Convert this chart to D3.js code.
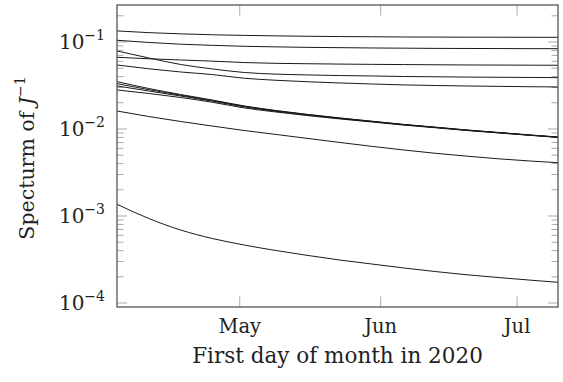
<!DOCTYPE html>
<html>
<head>
<meta charset="utf-8">
<script src="https://d3js.org/d3.v7.min.js"></script>
<style>
  body { margin: 0; background: #fff; }
  text { font-family: "DejaVu Serif", serif; fill: #222; }
</style>
</head>
<body>
<svg id="chart"></svg>
<script>
// sample dates (every week, Apr 4 .. Jul 10 2020)
var dates = ["2020-04-04", "2020-04-11", "2020-04-18", "2020-04-25", "2020-05-02",
    "2020-05-09", "2020-05-16", "2020-05-23", "2020-05-30", "2020-06-06",
    "2020-06-13", "2020-06-20", "2020-06-27", "2020-07-04", "2020-07-10"];

// eigenvalues of J^-1
var ev1 = [0.134, 0.128, 0.124, 0.121, 0.119, 0.1175, 0.1163, 0.1154, 0.1148, 0.1141, 0.1138, 0.1135, 0.1134, 0.1132, 0.1132];
var ev2 = [0.1046, 0.0987, 0.0943, 0.0914, 0.0892, 0.0878, 0.0867, 0.0860, 0.0853, 0.0849, 0.0844, 0.0842, 0.0840, 0.0838, 0.0838];
var ev3 = [0.0788, 0.0655, 0.0551, 0.0490, 0.0446, 0.0427, 0.0418, 0.0411, 0.0407, 0.0401, 0.0398, 0.0395, 0.0393, 0.0391, 0.0389];
var ev4 = [0.0667, 0.0641, 0.0621, 0.0602, 0.0580, 0.0568, 0.0562, 0.0557, 0.0553, 0.0550, 0.0547, 0.0544, 0.0543, 0.0541, 0.0540];
var ev5 = [0.0544, 0.0492, 0.0452, 0.0422, 0.0383, 0.0363, 0.0349, 0.0338, 0.0329, 0.0321, 0.0316, 0.0312, 0.0309, 0.0306, 0.0304];
var ev6 = [0.0350, 0.0292, 0.0249, 0.0215, 0.0184, 0.0163, 0.0147, 0.0134, 0.0123, 0.0113, 0.0105, 0.00974, 0.00912, 0.00853, 0.00809];
var ev7 = [0.0332, 0.0283, 0.02444, 0.02122, 0.01821, 0.01617, 0.01458, 0.01331, 0.01223, 0.01124, 0.01044, 0.00969, 0.00907, 0.00848, 0.00805];
var ev8 = [0.03123, 0.02733, 0.02393, 0.02088, 0.01792, 0.01596, 0.01447, 0.01322, 0.01217, 0.0112, 0.01042, 0.00966, 0.00906, 0.00848, 0.00805];
var ev9 = [0.02809, 0.02559, 0.0230, 0.02028, 0.01745, 0.01567, 0.01424, 0.01305, 0.01204, 0.01109, 0.01033, 0.00961, 0.0090, 0.00844, 0.0080];
var ev10 = [0.0161, 0.0139, 0.0122, 0.0108, 0.0096, 0.00865, 0.00778, 0.0070, 0.00632, 0.00574, 0.00526, 0.00487, 0.00454, 0.00428, 0.0041];
var ev11 = [0.001363, 0.000936, 0.00069, 0.000551, 0.000464, 0.000401, 0.000352, 0.000312, 0.000281, 0.000253, 0.00023, 0.000211, 0.000196, 0.000183, 0.000173];

var monthTicks = ["2020-05-01", "2020-06-01", "2020-07-01"];
var monthLabels = ["May", "Jun", "Jul"];
var decadeTicks = [1e-4, 1e-3, 1e-2, 1e-1];
var decadeExps = ["4", "3", "2", "1"];

var margin = { top: 5, right: 5, bottom: 75, left: 117 },
    width = 563 - margin.left - margin.right,
    height = 382 - margin.top - margin.bottom;

var svg = d3.select("#chart")
    .attr("width", width + margin.left + margin.right)
    .attr("height", height + margin.top + margin.bottom)
    .append("g")
    .attr("transform", "translate(" + margin.left + "," + margin.top + ")");

var parse = d3.utcParse("%Y-%m-%d");
var x = d3.scaleUtc()
    .domain([parse("2020-04-04"), parse("2020-07-10")])
    .range([0, width]);
var y = d3.scaleLog()
    .domain([9.0e-5, 0.266])
    .range([height, 0]);

var tickColor = "#aaa";

// minor ticks on left and right
var minor = [];
[-5, -4, -3, -2, -1].forEach(function (e) {
    for (var k = 2; k <= 9; k++) {
        var v = k * Math.pow(10, e);
        if (v > y.domain()[0] && v < y.domain()[1]) minor.push(v);
    }
});
svg.append("g").selectAll("line").data(minor).join("line")
    .attr("x1", 0).attr("x2", 6.5)
    .attr("y1", d => y(d)).attr("y2", d => y(d))
    .style("stroke", tickColor);
svg.append("g").selectAll("line").data(minor).join("line")
    .attr("x1", width).attr("x2", width - 6.5)
    .attr("y1", d => y(d)).attr("y2", d => y(d))
    .style("stroke", tickColor);

// major y ticks
svg.append("g").selectAll("line").data(decadeTicks).join("line")
    .attr("x1", 0).attr("x2", 10)
    .attr("y1", d => y(d)).attr("y2", d => y(d))
    .style("stroke", tickColor);
svg.append("g").selectAll("line").data(decadeTicks).join("line")
    .attr("x1", width).attr("x2", width - 10)
    .attr("y1", d => y(d)).attr("y2", d => y(d))
    .style("stroke", tickColor);

// month ticks bottom and top
svg.append("g").selectAll("line").data(monthTicks).join("line")
    .attr("x1", d => x(parse(d))).attr("x2", d => x(parse(d)))
    .attr("y1", height).attr("y2", height - 10.5)
    .style("stroke", tickColor);
svg.append("g").selectAll("line").data(monthTicks).join("line")
    .attr("x1", d => x(parse(d))).attr("x2", d => x(parse(d)))
    .attr("y1", 0).attr("y2", 10.5)
    .style("stroke", tickColor);

// curves
var series = [ev1, ev2, ev3, ev4, ev5, ev6, ev7, ev8, ev9, ev10, ev11];
var line = d3.line()
    .x((d, i) => x(parse(dates[i])))
    .y(d => y(d))
    .curve(d3.curveMonotoneX);

svg.append("clipPath").attr("id", "clip")
    .append("rect").attr("width", width).attr("height", height);

svg.append("g")
    .attr("clip-path", "url(#clip)")
    .selectAll("path")
    .data(series)
    .join("path")
    .attr("d", line)
    .attr("fill", "none")
    .style("stroke", "#1a1a1a")
    .style("stroke-width", 1);

// frame
svg.append("rect")
    .attr("width", width).attr("height", height)
    .attr("fill", "none")
    .style("stroke", "#555")
    .style("stroke-width", 1.3);

// y tick labels 10^-n
var yl = svg.append("g").selectAll("text").data(decadeTicks).join("text")
    .attr("x", -12)
    .attr("y", d => y(d) + 7)
    .attr("text-anchor", "end")
    .style("font-size", "20px");
yl.append("tspan").text("10");
yl.append("tspan")
    .attr("dy", -9)
    .style("font-size", "14px")
    .text((d, i) => "\u2212" + decadeExps[i]);

// x tick labels
svg.append("g").selectAll("text").data(monthTicks).join("text")
    .attr("x", d => x(parse(d)))
    .attr("y", height + 26)
    .attr("text-anchor", "middle")
    .style("font-size", "19.5px")
    .text((d, i) => monthLabels[i]);

// axis titles
svg.append("text")
    .attr("x", width / 2)
    .attr("y", height + 56)
    .attr("text-anchor", "middle")
    .style("font-size", "21.5px")
    .text("First day of month in 2020");

var yt = svg.append("text")
    .attr("transform", "translate(-83," + (height / 2 + 2) + ") rotate(-90)")
    .attr("text-anchor", "middle")
    .style("font-size", "20.5px");
yt.append("tspan").text("Specturm of ");
yt.append("tspan").style("font-style", "italic").text("J");
yt.append("tspan").attr("dy", -9).style("font-size", "14px").text("\u22121");
</script>
</body>
</html>
